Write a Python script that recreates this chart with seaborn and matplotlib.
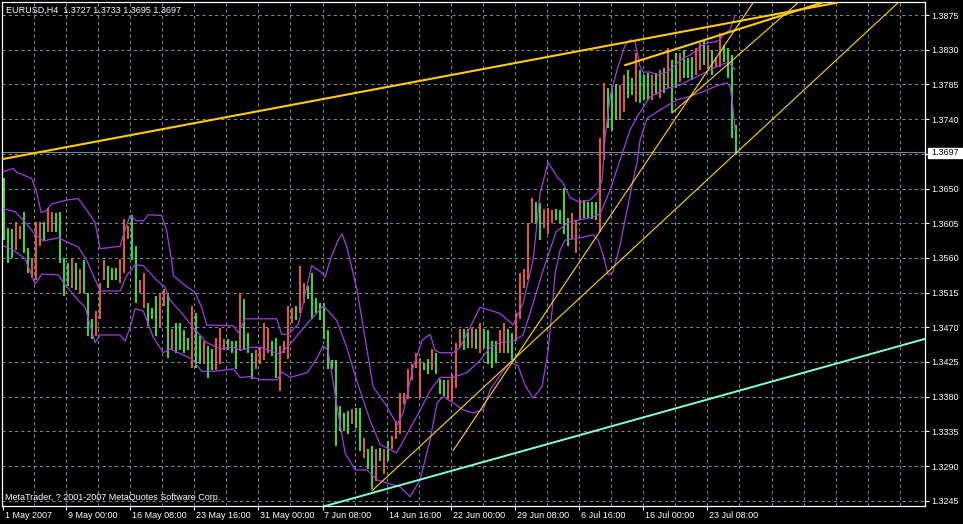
import matplotlib
matplotlib.use("Agg")
import matplotlib.pyplot as plt
import seaborn as sns
from matplotlib.transforms import blended_transform_factory
from matplotlib.patches import Rectangle

sns.set_theme(style="dark")
plt.rcParams['font.family'] = ['Liberation Sans', 'DejaVu Sans']

# ---------------- data ----------------
header_text = "EURUSD,H4  1.3727 1.3733 1.3695 1.3697"
footer_text = "MetaTrader, ? 2001-2007 MetaQuotes Software Corp."
bid_price = 1.3697

bar_high = [
 1.3663,1.3599,1.3598,1.3606,1.3602,1.3619,1.3573,1.3560,1.3606,1.3606,
 1.3606,1.3625,1.3619,1.3618,1.3619,1.3560,1.3554,1.3560,1.3554,1.3546,
 1.3557,1.3514,1.3481,1.3491,1.3528,1.3557,1.3550,1.3547,1.3547,1.3559,
 1.3611,1.3602,1.3615,1.3576,1.3531,1.3540,1.3501,1.3495,1.3511,1.3515,
 1.3520,1.3514,1.3468,1.3476,1.3475,1.3466,1.3456,1.3498,1.3488,1.3459,
 1.3452,1.3446,1.3442,1.3456,1.3469,1.3455,1.3455,1.3452,1.3452,1.3515,
 1.3507,1.3462,1.3436,1.3440,1.3443,1.3475,1.3469,1.3452,1.3456,1.3446,
 1.3452,1.3498,1.3495,1.3498,1.3550,1.3527,1.3524,1.3540,1.3508,1.3502,
 1.3501,1.3466,1.3427,1.3427,1.3368,1.3359,1.3362,1.3364,1.3365,1.3365,
 1.3326,1.3312,1.3316,1.3312,1.3313,1.3312,1.3323,1.3329,1.3349,1.3385,
 1.3385,1.3416,1.3423,1.3436,1.3430,1.3424,1.3429,1.3442,1.3436,1.3403,
 1.3401,1.3401,1.3410,1.3449,1.3468,1.3468,1.3468,1.3469,1.3468,1.3476,
 1.3468,1.3466,1.3452,1.3452,1.3466,1.3476,1.3468,1.3462,1.3488,1.3540,
 1.3546,1.3605,1.3638,1.3632,1.3631,1.3624,1.3625,1.3622,1.3624,1.3622,
 1.3651,1.3612,1.3618,1.3609,1.3635,1.3635,1.3632,1.3632,1.3632,1.3716,
 1.3787,1.3781,1.3781,1.3784,1.3784,1.3797,1.3804,1.3793,1.3826,1.3804,
 1.3797,1.3800,1.3797,1.3800,1.3804,1.3806,1.3832,1.3817,1.3826,1.3826,
 1.3830,1.3819,1.3820,1.3832,1.3839,1.3842,1.3836,1.3830,1.3820,1.3852,
 1.3836,1.3832,1.3823,1.3733]
bar_low = [
 1.3583,1.3554,1.3560,1.3570,1.3585,1.3566,1.3540,1.3534,1.3531,1.3576,
 1.3583,1.3593,1.3593,1.3593,1.3554,1.3511,1.3524,1.3521,1.3518,1.3515,
 1.3515,1.3459,1.3455,1.3459,1.3481,1.3531,1.3521,1.3531,1.3531,1.3528,
 1.3541,1.3585,1.3557,1.3501,1.3514,1.3495,1.3472,1.3481,1.3459,1.3469,
 1.3498,1.3430,1.3440,1.3437,1.3440,1.3437,1.3440,1.3417,1.3417,1.3423,
 1.3423,1.3404,1.3414,1.3414,1.3423,1.3440,1.3440,1.3437,1.3416,1.3440,
 1.3440,1.3437,1.3403,1.3416,1.3423,1.3427,1.3436,1.3433,1.3404,1.3388,
 1.3436,1.3429,1.3475,1.3479,1.3489,1.3501,1.3507,1.3481,1.3488,1.3479,
 1.3455,1.3416,1.3416,1.3316,1.3336,1.3336,1.3332,1.3345,1.3339,1.3310,
 1.3300,1.3286,1.3260,1.3271,1.3297,1.3280,1.3297,1.3312,1.3325,1.3332,
 1.3371,1.3377,1.3401,1.3417,1.3378,1.3414,1.3410,1.3414,1.3410,1.3384,
 1.3381,1.3377,1.3375,1.3391,1.3443,1.3440,1.3443,1.3443,1.3442,1.3436,
 1.3443,1.3423,1.3417,1.3424,1.3437,1.3436,1.3436,1.3427,1.3452,1.3481,
 1.3521,1.3531,1.3605,1.3605,1.3583,1.3599,1.3591,1.3605,1.3609,1.3605,
 1.3591,1.3576,1.3585,1.3566,1.3609,1.3612,1.3612,1.3611,1.3609,1.3593,
 1.3687,1.3729,1.3725,1.3739,1.3739,1.3749,1.3768,1.3771,1.3762,1.3761,
 1.3765,1.3765,1.3765,1.3771,1.3768,1.3774,1.3780,1.3748,1.3780,1.3788,
 1.3793,1.3793,1.3791,1.3797,1.3804,1.3810,1.3806,1.3797,1.3807,1.3807,
 1.3814,1.3793,1.3716,1.3695]
# u = up bar, d = down bar
bar_dir = ("ddduudduuu" "duuddddudu" "ddduuudddu" "uudduudddu" "ududdddudd"
           "udduuudddu" "ddduuuuddu" "uuuduudddd" "dddddddudd" "uddududuuu"
           "uuuuuddudd" "duuuuddudu" "dddduudduu" "uuudduuudd" "dduuuddddu"
           "uddduuddud" "ddudududdu" "ddduududuu" "dddd")

# Bollinger-type band lines (bar number, price)
band_upper_bar = [0, 5, 6.7, 14.2, 16.7, 18.9, 20.9, 24.2, 31.7, 37.5, 42.5, 45.9, 48.4, 58.4, 60.2,
                  63.4, 66.7, 70, 72.5, 79.2, 81.7, 84.2, 85, 90, 95.9, 99.2, 101.7, 115, 117.5,
                  120.9, 136.7, 139.2, 142.5, 147.5, 154.2, 159.2, 160.9, 163.4, 167.4, 169.4,
                  171.9, 176.9, 181.9, 184.9, 191.9, 196.9, 199.9, 204.9, 209.4, 213.4, 215.9,
                  218.4, 224.9, 228.4, 238.4, 243.4, 248.4, 254.9, 259.9, 264.9, 268.4, 272.4,
                  276.9, 279.9, 283.4, 288.4, 293.4, 296.9, 299.4, 300.9, 303.4, 306.9, 310.9,
                  313.4, 315.9, 318.4, 319.9, 323.4, 327.4, 331.9, 339.9, 343.4, 348.4, 351.9,
                  355.9, 358.4, 359.9, 363.4, 365.9]
band_upper_price = [1.3672, 1.3676, 1.3671, 1.3663, 1.3645, 1.3619, 1.3620, 1.3630, 1.3635, 1.3637,
                    1.3619, 1.3606, 1.3572, 1.3575, 1.3591, 1.3615, 1.3608, 1.3608, 1.3616, 1.3615,
                    1.3595, 1.3556, 1.3537, 1.3526, 1.3515, 1.3496, 1.3473, 1.3472, 1.3463, 1.3481,
                    1.3481, 1.3461, 1.3461, 1.3474, 1.3550, 1.3541, 1.3535, 1.3557, 1.3583, 1.3591,
                    1.3573, 1.3518, 1.3440, 1.3393, 1.3367, 1.3343, 1.3359, 1.3418, 1.3453, 1.3461,
                    1.3440, 1.3437, 1.3437, 1.3444, 1.3496, 1.3492, 1.3488, 1.3473, 1.3501, 1.3557,
                    1.3644, 1.3684, 1.3665, 1.3657, 1.3638, 1.3632, 1.3635, 1.3644, 1.3661, 1.3717,
                    1.3769, 1.3804, 1.3836, 1.3843, 1.3840, 1.3808, 1.3801, 1.3801, 1.3797, 1.3801,
                    1.3819, 1.3823, 1.3834, 1.3839, 1.3840, 1.3843, 1.3849, 1.3856, 1.3875]
band_mid_bar = [0, 5.9, 11.7, 15, 20, 27.5, 37.5, 41.7, 48.4, 58.4, 61.7, 65.9, 70, 76.7, 80.9, 83.4,
                88.4, 94.2, 101.7, 108.4, 115, 118.4, 123.4, 128.4, 138.4, 143.3, 151.7, 160, 166.7,
                171.7, 176.7, 183.4, 188.4, 196.7, 201.7, 208.4, 213.4, 218.4, 225, 231.7, 238.4,
                243.4, 248.4, 254.9, 259.9, 264.9, 269.9, 276.4, 283.4, 293.4, 298.4, 303.4, 308.4,
                313.4, 316.9, 323.4, 331.9, 338.4, 343.4, 348.4, 353.4, 358.4, 362.4, 364.9, 365.9]
band_mid_price = [1.3624, 1.3620, 1.3604, 1.3593, 1.3582, 1.3586, 1.3574, 1.3557, 1.3517, 1.3517,
                  1.3537, 1.3551, 1.3550, 1.3531, 1.3522, 1.3505, 1.3491, 1.3472, 1.3450, 1.3442,
                  1.3444, 1.3440, 1.3444, 1.3444, 1.3435, 1.3448, 1.3474, 1.3498, 1.3479, 1.3444,
                  1.3401, 1.3349, 1.3318, 1.3307, 1.3331, 1.3362, 1.3388, 1.3405, 1.3405, 1.3411,
                  1.3427, 1.3444, 1.3450, 1.3452, 1.3460, 1.3501, 1.3544, 1.3594, 1.3607, 1.3612,
                  1.3617, 1.3648, 1.3687, 1.3726, 1.3743, 1.3769, 1.3780, 1.3784, 1.3791, 1.3797,
                  1.3804, 1.3810, 1.3814, 1.3807, 1.3804]
band_lower_bar = [0, 5, 10.9, 15.9, 19.2, 27.5, 30, 37.5, 40.9, 45.9, 48.4, 58.4, 60.9, 63.4, 65.9,
                  70, 75, 80, 83.4, 94.2, 99.2, 105.9, 115, 118.4, 123.4, 128.4, 136.9, 139.4,
                  143.4, 151.9, 156.9, 159.9, 162.4, 166.9, 170.9, 175.9, 181.9, 186.9, 191.9,
                  198.4, 203.4, 208.4, 213.4, 216.9, 219.9, 224.9, 229.9, 234.9, 239.9, 243.4,
                  248.4, 253.4, 257.4, 260.9, 264.9, 269.4, 272.4, 274.4, 275.9, 278.4, 280.9,
                  288.4, 294.9, 297.4, 299.9, 302.4, 304.9, 308.4, 311.9, 314.9, 316.9, 318.4,
                  321.9, 328.4, 336.9, 342.4, 348.4, 357.4, 361.9, 363.4, 364.4, 365.9]
band_lower_price = [1.3576, 1.3570, 1.3559, 1.3526, 1.3539, 1.3538, 1.3528, 1.3505, 1.3496, 1.3450,
                    1.3460, 1.3460, 1.3452, 1.3470, 1.3494, 1.3491, 1.3457, 1.3437, 1.3442, 1.3429,
                    1.3413, 1.3413, 1.3416, 1.3405, 1.3406, 1.3402, 1.3402, 1.3412, 1.3405, 1.3411,
                    1.3430, 1.3446, 1.3440, 1.3367, 1.3307, 1.3285, 1.3285, 1.3272, 1.3268, 1.3263,
                    1.3250, 1.3272, 1.3324, 1.3372, 1.3380, 1.3372, 1.3363, 1.3359, 1.3363, 1.3389,
                    1.3408, 1.3425, 1.3420, 1.3395, 1.3378, 1.3393, 1.3440, 1.3492, 1.3540, 1.3570,
                    1.3583, 1.3586, 1.3590, 1.3583, 1.3564, 1.3538, 1.3542, 1.3577, 1.3622, 1.3661,
                    1.3684, 1.3713, 1.3741, 1.3752, 1.3765, 1.3769, 1.3774, 1.3784, 1.3787, 1.3782,
                    1.3765, 1.3726]

# trend lines: (bar0, price0, bar1, price1)
trend_thick = [(-0.65, 1.3688, 416.9, 1.3891), (310.9, 1.3810, 409.4, 1.3891)]
trend_thin = [(184.4, 1.3258, 447.4, 1.3891), (224.9, 1.3310, 374.9, 1.3891),
              (334.4, 1.3748, 397.4, 1.3891)]
channel_line = (159.4, 1.3237, 460.9, 1.3455)

price_ticks = [1.3245, 1.3290, 1.3335, 1.3380, 1.3425, 1.3470, 1.3515, 1.3560,
               1.3605, 1.3650, 1.3695, 1.3740, 1.3785, 1.3830, 1.3875]
time_labels = ["1 May 2007", "9 May 00:00", "16 May 08:00", "23 May 16:00", "31 May 00:00",
               "7 Jun 08:00", "14 Jun 16:00", "22 Jun 00:00", "29 Jun 08:00", "6 Jul 16:00",
               "16 Jul 00:00", "23 Jul 08:00"]

# ---------------- style ----------------
W, H = 963, 524
GRID = '#778899'
UP = '#F0642A'
DN = '#3CE63C'
PURPLE = '#A23BE6'
GOLD = '#FFCC00'
FS = 6.5

fig = plt.figure(figsize=(W / 100, H / 100), dpi=100, facecolor='black')
ax = fig.add_axes([2 / W, 18 / H, 923 / W, 504 / H])
ax.set_facecolor('black')
ax.set_xlim(-0.65, 460.85)
ax.set_ylim(1.32382, 1.38919)

# grid
grid_step = 16.035
for m in range(-1, 27):
    ax.axvline(31.35 + grid_step * m, color=GRID, lw=0.75, ls=(0, (3, 3)), zorder=0.5)
for p in price_ticks:
    ax.axhline(p, color=GRID, lw=0.75, ls=(0, (3, 3)), zorder=0.5)
ax.axhline(bid_price, color=GRID, lw=0.8, zorder=1)

# bars
bar_x = [2 * i + 0.5 for i in range(len(bar_high))]
cols = [UP if d == 'u' else DN for d in bar_dir]
ax.vlines(bar_x, bar_low, bar_high, colors=cols, linewidth=1.35, zorder=2)

# indicator lines
for bx, py in [(band_upper_bar, band_upper_price), (band_mid_bar, band_mid_price),
               (band_lower_bar, band_lower_price)]:
    sns.lineplot(x=bx, y=py, ax=ax, color=PURPLE, linewidth=0.9, sort=False,
                 estimator=None, zorder=3)

# trend lines
for (b0, p0, b1, p1) in trend_thick:
    sns.lineplot(x=[b0, b1], y=[p0, p1], ax=ax, color=GOLD, linewidth=1.5,
                 sort=False, estimator=None, zorder=4)
for (b0, p0, b1, p1) in trend_thin:
    sns.lineplot(x=[b0, b1], y=[p0, p1], ax=ax, color='#FFD700', linewidth=0.8,
                 sort=False, estimator=None, zorder=4)
b0, p0, b1, p1 = channel_line
sns.lineplot(x=[b0, b1], y=[p0, p1], ax=ax, color='#7FFFD4', linewidth=1.4,
             sort=False, estimator=None, zorder=4)

ax.set_xlabel('')
ax.set_ylabel('')
for s in ax.spines.values():
    s.set_color('white')
    s.set_linewidth(0.9)
    s.set_visible(True)

# y axis on right
ax.yaxis.tick_right()
ax.set_yticks(price_ticks)
ax.set_yticklabels(['' if abs(p - 1.3695) < 1e-6 else f'{p:.4f}' for p in price_ticks])
ax.tick_params(axis='y', colors='white', labelcolor='white', labelsize=FS, length=2.9,
               width=0.8, pad=1.9, direction='out', right=True, left=False)

# x axis ticks and labels
label_pos = [0] + [31.35 + 2 * grid_step * j for j in range(11)]
ax.set_xticks(label_pos)
ax.set_xticklabels([''] * len(label_pos))
ax.tick_params(axis='x', colors='white', length=2.9, width=0.8, direction='out', bottom=True)
tr = blended_transform_factory(ax.transData, ax.transAxes)
for pos, lab in zip(label_pos, time_labels):
    ax.text(pos + 0.9, -0.018, lab, transform=tr, ha='left', va='center',
            color='white', fontsize=FS, clip_on=False)
ax.grid(False)

# header / footer
fig.text(6.5 / W, 1 - 10.7 / H, header_text, color='white', fontsize=FS, ha='left', va='center')
fig.text(5 / W, 1 - 498 / H, footer_text, color='white', fontsize=FS, ha='left', va='center')

# bid price box
fig.patches.append(Rectangle((928 / W, 1 - 157.5 / H), 34 / W, 9.5 / H,
                             transform=fig.transFigure, facecolor='white', edgecolor='white'))
fig.text(931.5 / W, 1 - 152.8 / H, f'{bid_price:.4f}', color='black', fontsize=FS,
         ha='left', va='center')

fig.savefig('out.png', dpi=100, facecolor='black')
